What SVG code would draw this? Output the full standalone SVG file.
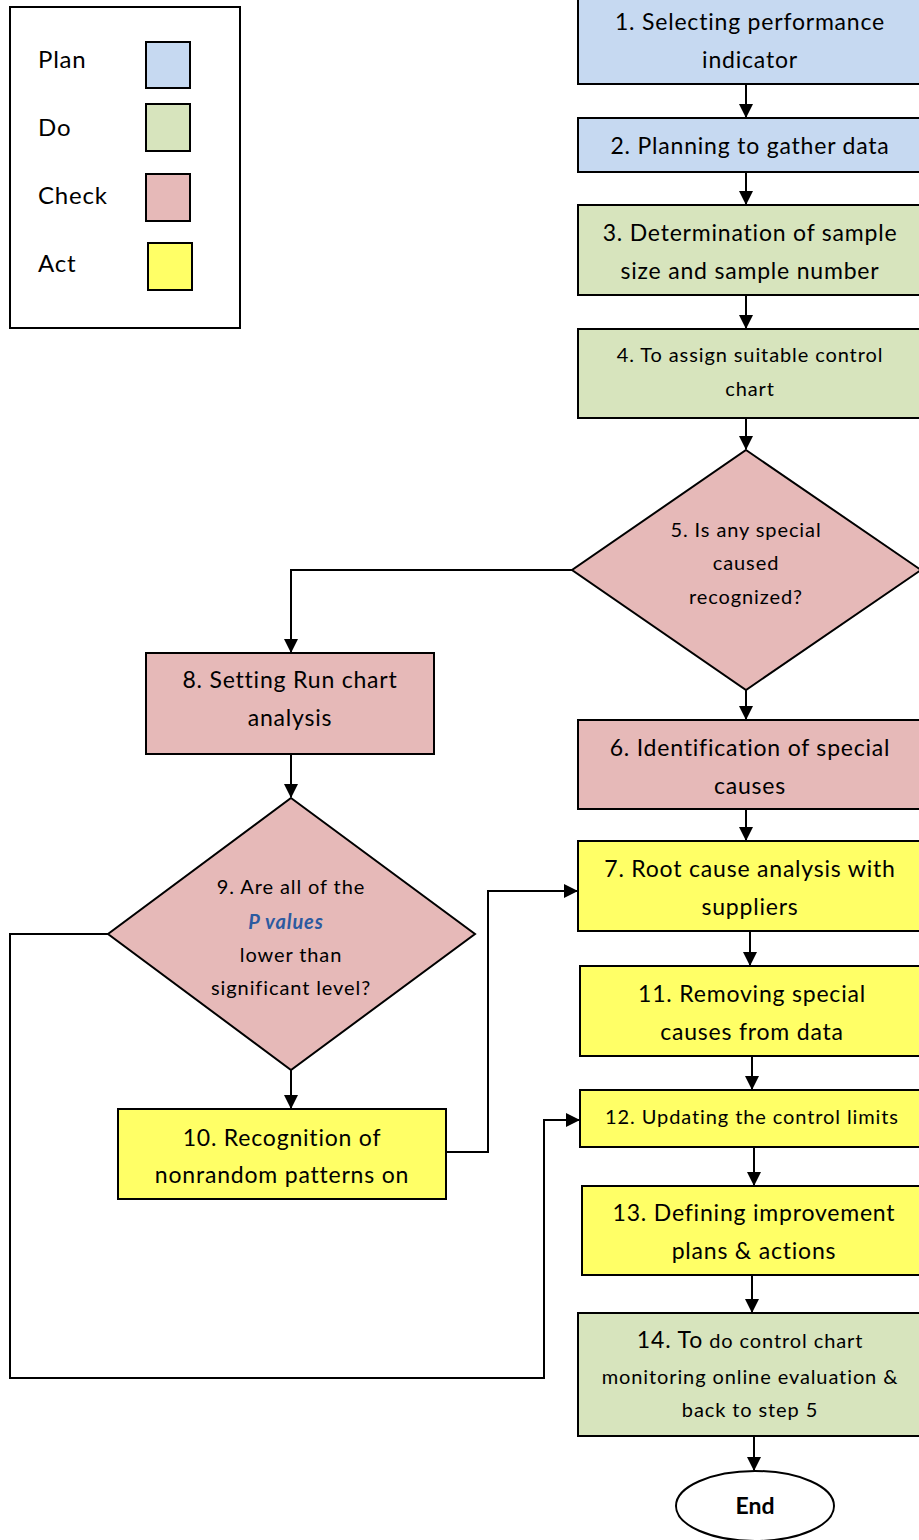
<svg xmlns="http://www.w3.org/2000/svg" width="919" height="1540" viewBox="0 0 919 1540">
<style>
text{font-family:Lato,"Open Sans","Liberation Sans",sans-serif;fill:#000;text-anchor:middle}
.t{font-size:23px;letter-spacing:0.8px}
.s{font-size:20px;letter-spacing:0.9px}
.lg{font-size:24px;letter-spacing:0.8px;text-anchor:start}
.b{stroke:#000;stroke-width:2}
.plan{fill:#c6d9f1}
.do{fill:#d7e4bd}
.chk{fill:#e6b9b8}
.act{fill:#ffff66}
.c{fill:none;stroke:#000;stroke-width:2}
</style>
<defs>
<marker id="ah" markerWidth="14" markerHeight="14" refX="13" refY="7" orient="auto" markerUnits="userSpaceOnUse" viewBox="0 0 14 14">
<path d="M0,0 L14,7 L0,14 z" fill="#000"/>
</marker>
</defs>
<rect x="0" y="0" width="919" height="1540" fill="#fff"/>
<g id="legend">
<rect x="10" y="7" width="230" height="321" fill="#fff" class="b"/>
<text class="lg" x="38" y="68">Plan</text>
<text class="lg" x="38" y="136">Do</text>
<text class="lg" x="38" y="204">Check</text>
<text class="lg" x="38" y="272">Act</text>
<rect x="146" y="42" width="44" height="46" class="b plan"/>
<rect x="146" y="104" width="44" height="47" class="b do"/>
<rect x="146" y="174" width="44" height="47" class="b chk"/>
<rect x="148" y="243" width="44" height="47" class="b act"/>
</g>
<g id="connectors">
<path class="c" d="M746,84 V117" marker-end="url(#ah)"/>
<path class="c" d="M746,172 V204" marker-end="url(#ah)"/>
<path class="c" d="M746,295 V328" marker-end="url(#ah)"/>
<path class="c" d="M746,418 V449" marker-end="url(#ah)"/>
<path class="c" d="M746,690 V719" marker-end="url(#ah)"/>
<path class="c" d="M746,809 V840" marker-end="url(#ah)"/>
<path class="c" d="M750,931 V965" marker-end="url(#ah)"/>
<path class="c" d="M752,1056 V1089" marker-end="url(#ah)"/>
<path class="c" d="M754,1147 V1185" marker-end="url(#ah)"/>
<path class="c" d="M752,1275 V1312" marker-end="url(#ah)"/>
<path class="c" d="M754,1436 V1470" marker-end="url(#ah)"/>
<path class="c" d="M572,570 H291 V652" marker-end="url(#ah)"/>
<path class="c" d="M291,754 V797" marker-end="url(#ah)"/>
<path class="c" d="M291,1070 V1108" marker-end="url(#ah)"/>
<path class="c" d="M446,1152 H488 V891 H577" marker-end="url(#ah)"/>
<path class="c" d="M108,934 H10 V1378 H544 V1120 H579" marker-end="url(#ah)"/>
</g>
<g id="n1">
<rect x="578" y="-2" width="350" height="86" class="b plan"/>
<text class="t" x="750" y="30">1. Selecting performance</text>
<text class="t" x="750" y="68">indicator</text>
</g>
<g id="n2">
<rect x="578" y="118" width="350" height="54" class="b plan"/>
<text class="t" x="750" y="154">2. Planning to gather data</text>
</g>
<g id="n3">
<rect x="578" y="205" width="350" height="90" class="b do"/>
<text class="t" x="750" y="241">3. Determination of sample</text>
<text class="t" x="750" y="279">size and sample number</text>
</g>
<g id="n4">
<rect x="578" y="329" width="350" height="89" class="b do"/>
<text class="s" x="750" y="362">4. To assign suitable control</text>
<text class="s" x="750" y="396">chart</text>
</g>
<g id="n5">
<polygon points="746,450 921,570 746,690 572,570" class="b chk"/>
<text class="s" x="746" y="537">5. Is any special</text>
<text class="s" x="746" y="570">caused</text>
<text class="s" x="746" y="604">recognized?</text>
</g>
<g id="n6">
<rect x="578" y="720" width="350" height="89" class="b chk"/>
<text class="t" x="750" y="756">6. Identification of special</text>
<text class="t" x="750" y="794">causes</text>
</g>
<g id="n7">
<rect x="578" y="841" width="350" height="90" class="b act"/>
<text class="t" x="750" y="877">7. Root cause analysis with</text>
<text class="t" x="750" y="915">suppliers</text>
</g>
<g id="n8">
<rect x="146" y="653" width="288" height="101" class="b chk"/>
<text class="t" x="290" y="688">8. Setting Run chart</text>
<text class="t" x="290" y="726">analysis</text>
</g>
<g id="n9">
<polygon points="291,798 475,934 291,1070 108,934" class="b chk"/>
<text class="s" x="291" y="894">9. Are all of the</text>
<text class="s" x="286" y="929" style="font-weight:bold;font-style:italic;fill:#2c5aa0">P values</text>
<text class="s" x="291" y="962">lower than</text>
<text class="s" x="291" y="995">significant level?</text>
</g>
<g id="n10">
<rect x="118" y="1109" width="328" height="90" class="b act"/>
<text class="t" x="282" y="1146">10. Recognition of</text>
<text class="t" x="282" y="1183">nonrandom patterns on</text>
</g>
<g id="n11">
<rect x="580" y="966" width="350" height="90" class="b act"/>
<text class="t" x="752" y="1002">11. Removing special</text>
<text class="t" x="752" y="1040">causes from data</text>
</g>
<g id="n12">
<rect x="580" y="1090" width="350" height="57" class="b act"/>
<text class="s" x="752" y="1124">12. Updating the control limits</text>
</g>
<g id="n13">
<rect x="582" y="1186" width="350" height="89" class="b act"/>
<text class="t" x="754" y="1221">13. Defining improvement</text>
<text class="t" x="754" y="1259">plans &amp; actions</text>
</g>
<g id="n14">
<rect x="578" y="1313" width="350" height="123" class="b do"/>
<text class="s" x="750" y="1348"><tspan style="font-size:23px">14. To</tspan> do control chart</text>
<text class="s" x="750" y="1384">monitoring online evaluation &amp;</text>
<text class="s" x="750" y="1417">back to step 5</text>
</g>
<g id="end">
<ellipse cx="755" cy="1506" rx="79" ry="35" fill="#fff" class="b"/>
<text x="755" y="1514" style="font-size:23px;font-weight:bold">End</text>
</g>
</svg>
